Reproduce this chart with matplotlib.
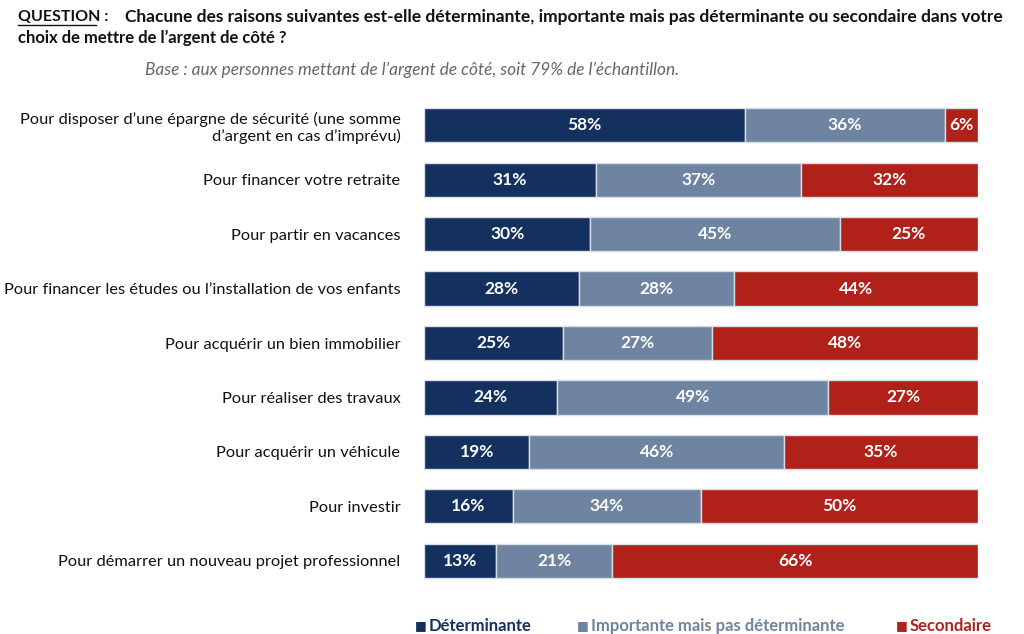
import matplotlib
matplotlib.use("Agg")
import matplotlib.pyplot as plt
from matplotlib.lines import Line2D
import numpy as np

plt.rcParams['font.family'] = ['Lato', 'DejaVu Sans']

categories = [
    "Pour disposer d\u2019une épargne de sécurité (une somme\nd\u2019argent en cas d\u2019imprévu)",
    "Pour financer votre retraite",
    "Pour partir en vacances",
    "Pour financer les études ou l\u2019installation de vos enfants",
    "Pour acquérir un bien immobilier",
    "Pour réaliser des travaux",
    "Pour acquérir un véhicule",
    "Pour investir",
    "Pour démarrer un nouveau projet professionnel",
]
determinante = [58, 31, 30, 28, 25, 24, 19, 16, 13]
importante = [36, 37, 45, 28, 27, 49, 46, 34, 21]
secondaire = [6, 32, 25, 44, 48, 27, 35, 50, 66]

series = [
    ("Déterminante", determinante, "#14305F"),
    ("Importante mais pas déterminante", importante, "#6E84A0"),
    ("Secondaire", secondaire, "#B0211A"),
]

fig = plt.figure(figsize=(10.24, 6.34), dpi=100)
ax = fig.add_axes([424 / 1024, 1 - 588 / 634, 554 / 1024, 490 / 634])

y = np.arange(len(categories))
left = np.zeros(len(categories))
for name, vals, color in series:
    vals = np.array(vals)
    ax.barh(y, vals, left=left, height=0.63, color=color,
            edgecolor="#D8DEE6", linewidth=1.0)
    for yi, l, v in zip(y, left, vals):
        ax.text(l + v / 2, yi, f"{v}%", ha="center", va="center",
                color="white", fontsize=12.5, fontweight="bold")
    left += vals

ax.set_xlim(0, 100)
ax.set_ylim(len(categories) - 0.5, -0.5)
ax.set_yticks(y)
ax.set_yticklabels(categories, fontsize=11.8, color="#111111", ha="right",
                   multialignment="right")
ax.tick_params(axis="y", length=0, pad=17)
ax.set_xticks([])
for s in ax.spines.values():
    s.set_visible(False)

# titre
q = fig.text(18 / 1024, 1 - 17 / 634, "QUESTION :", fontsize=11.5,
             fontweight="bold", va="center", color="#111111")
fig.text(125 / 1024, 1 - 17 / 634,
         "Chacune des raisons suivantes est-elle déterminante, importante mais pas déterminante ou secondaire dans votre",
         fontsize=12.5, fontweight="bold", va="center", color="#111111")
fig.text(18 / 1024, 1 - 38 / 634, "choix de mettre de l\u2019argent de côté ?",
         fontsize=12, fontweight="bold", va="center", color="#111111")
fig.text(145 / 1024, 1 - 70 / 634,
         "Base : aux personnes mettant de l\u2019argent de côté, soit 79% de l\u2019échantillon.",
         fontsize=12.4, style="italic", va="center", color="#666666")

fig.canvas.draw()
bb = q.get_window_extent().transformed(fig.transFigure.inverted())
fig.add_artist(Line2D([bb.x0, bb.x0 + (bb.x1 - bb.x0) * 0.86], [bb.y0 - 0.002, bb.y0 - 0.002],
                      color="#111111", linewidth=1.0, transform=fig.transFigure))

# légende
legend_x = [415, 577, 896]
for (name, vals, color), lx in zip(series, legend_x):
    fig.text(lx / 1024, 1 - 626 / 634, "\u25A0", fontsize=9, color=color,
             va="center", ha="left", family=['DejaVu Sans'])
    fig.text((lx + 14) / 1024, 1 - 626 / 634, name, fontsize=12,
             fontweight="bold", color=color, va="center", ha="left")

fig.savefig("out.png", dpi=100)
